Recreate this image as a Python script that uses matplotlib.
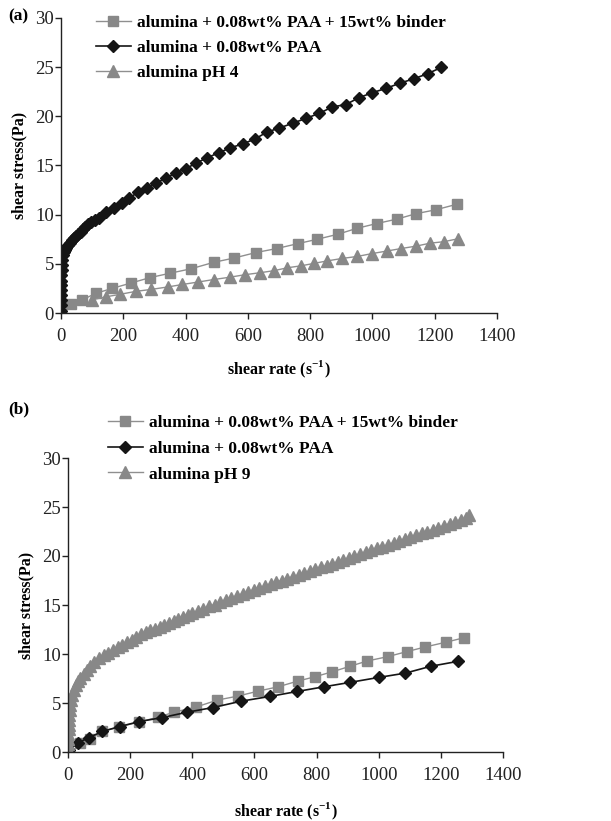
import matplotlib
matplotlib.use("Agg")
import matplotlib.pyplot as plt

plt.rcParams['font.family'] = ['Liberation Serif', 'DejaVu Serif']
plt.rcParams['mathtext.fontset'] = 'custom'
plt.rcParams['mathtext.rm'] = 'Liberation Serif'
plt.rcParams['mathtext.bf'] = 'Liberation Serif:bold'

# ---------------- data: panel (a) ----------------
a_binder_x = [33, 69, 112, 164, 225, 286, 351, 418, 490, 557, 626, 692, 760, 823, 888, 949, 1014, 1079, 1140, 1204, 1270]
a_binder_y = [0.88, 1.35, 2.0, 2.5, 3.05, 3.6, 4.05, 4.5, 5.15, 5.6, 6.15, 6.55, 7.05, 7.5, 8.0, 8.6, 9.1, 9.55, 10.1, 10.5, 11.05]

a_paa_x = [0.1, 0.2, 0.3, 0.4, 0.5, 0.6, 0.8, 1, 2, 3, 4.5, 6.8, 9.5, 12.6, 17, 22, 28, 34, 41, 48, 55, 63, 70, 77, 87, 96.6,
           108, 120.7, 145, 169, 195, 219, 246, 275, 306, 336, 369, 401, 435, 470, 507, 544, 584, 623, 661.5, 700, 744,
           787, 829, 871, 914.5, 957, 999.5, 1045, 1088, 1135, 1178, 1221]
a_paa_y = [0.2, 0.8, 1.3, 1.8, 2.3, 2.8, 3.3, 3.85, 4.35, 4.87, 5.4, 5.9, 6.2, 6.4, 6.65, 6.9, 7.15, 7.4, 7.6, 7.87, 8.05,
           8.28, 8.55, 8.79, 9.05, 9.3, 9.45, 9.64, 10.25, 10.66, 11.17, 11.68, 12.26, 12.7, 13.2, 13.73, 14.24, 14.68,
           15.26, 15.8, 16.3, 16.8, 17.2, 17.7, 18.4, 18.8, 19.3, 19.8, 20.3, 20.95, 21.2, 21.9, 22.4, 22.86, 23.37,
           23.84, 24.35, 24.97]

a_ph4_x = [101, 145, 190, 240, 290, 343, 390, 440, 490, 544, 592, 640, 683, 727, 771, 813, 855, 903, 951, 1000, 1046,
           1091, 1140, 1185, 1229, 1275]
a_ph4_y = [1.35, 1.65, 1.9, 2.2, 2.4, 2.65, 2.9, 3.15, 3.4, 3.65, 3.9, 4.1, 4.3, 4.6, 4.8, 5.05, 5.3, 5.55, 5.75, 6.05,
           6.3, 6.55, 6.8, 7.1, 7.25, 7.55]

# ---------------- data: panel (b) ----------------
b_binder_x = [39, 72, 110, 165, 227, 290, 341, 413, 481, 546, 612, 677, 740, 795, 851, 907, 962, 1029, 1090, 1150, 1216, 1276]
b_binder_y = [0.92, 1.35, 2.1, 2.55, 3.05, 3.55, 4.06, 4.6, 5.3, 5.7, 6.21, 6.66, 7.24, 7.68, 8.19, 8.74, 9.28, 9.73,
              10.24, 10.72, 11.2, 11.67]

b_paa_x = [3, 33, 66, 111, 166, 229, 304, 382, 467, 558, 650, 738, 825, 907, 1000, 1086, 1168, 1255]
b_paa_y = [0.2, 0.95, 1.45, 2.1, 2.6, 3.1, 3.52, 4.05, 4.54, 5.19, 5.67, 6.18, 6.66, 7.1, 7.61, 8.05, 8.75, 9.25]

b_ph9_x = [0, 0.5, 1, 1.5, 2, 2.5, 3, 4, 5, 7, 9, 13, 18, 25, 32, 40, 50, 60, 72, 85, 100, 115, 130, 145, 160, 175,
           190, 205, 220, 235, 250, 265, 280, 295, 310, 325, 340, 355, 370, 385, 400, 418, 436, 454, 472, 490, 508,
           526, 544, 562, 580, 598, 616, 634, 652, 670, 688, 706, 724, 742, 760, 778, 796, 814, 832, 850, 868, 886,
           904, 922, 940, 958, 976, 994, 1012, 1030, 1048, 1066, 1084, 1102, 1120, 1138, 1156, 1174, 1192, 1210,
           1228, 1246, 1264, 1282, 1290]
b_ph9_y = [0.3, 0.8, 1.3, 1.8, 2.3, 2.8, 3.3, 3.8, 4.3, 4.8, 5.3, 5.8, 6.3, 6.8, 7.2, 7.6, 8.0, 8.4, 8.8, 9.2, 9.6,
           9.9, 10.1, 10.4, 10.7, 10.9, 11.2, 11.4, 11.7, 12.0, 12.2, 12.4, 12.6, 12.8, 13.0, 13.15, 13.35, 13.55,
           13.75, 13.95, 14.15, 14.35, 14.6, 14.85, 15.05, 15.3, 15.55, 15.75, 15.95, 16.15, 16.35, 16.55, 16.75,
           16.95, 17.15, 17.35, 17.5, 17.7, 17.9, 18.05, 18.25, 18.45, 18.65, 18.85, 19.0, 19.2, 19.4, 19.6, 19.8,
           20.0, 20.2, 20.4, 20.6, 20.8, 20.95, 21.15, 21.35, 21.55, 21.75, 21.9, 22.1, 22.3, 22.5, 22.7, 22.9,
           23.1, 23.3, 23.5, 23.7, 23.9, 24.2]

label_binder = "alumina + 0.08wt% PAA + 15wt% binder"
label_paa = "alumina + 0.08wt% PAA"
label_ph4 = "alumina pH 4"
label_ph9 = "alumina pH 9"

xticks = [0, 200, 400, 600, 800, 1000, 1200, 1400]
yticks = [0, 5, 10, 15, 20, 25, 30]

GREY = '#888888'
GREYLINE = '#8f8f8f'
BLACK = '#151515'

fig = plt.figure(figsize=(6.11, 8.21), dpi=100)
W, H = 611, 821
ax1 = fig.add_axes([61 / W, 1 - 313 / H, 436 / W, 295 / H])
ax2 = fig.add_axes([68 / W, 1 - 752 / H, 435 / W, 294 / H])

TICKFS = 13.5
LEGFS = 12.5
LABFS = 11.5


def style(ax, xpad):
    ax.set_xlim(0, 1400)
    ax.set_ylim(0, 30)
    ax.set_xticks(xticks)
    ax.set_yticks(yticks)
    for s in ['top', 'right']:
        ax.spines[s].set_visible(False)
    for s in ['left', 'bottom']:
        ax.spines[s].set_linewidth(1.0)
        ax.spines[s].set_color('#222222')
    ax.tick_params(direction='out', length=4, width=1.0, labelsize=TICKFS, colors='#222222')
    ax.tick_params(axis='y', pad=1)
    ax.tick_params(axis='x', pad=7)
    ax.set_xlabel(r'shear rate (s$^{\mathbf{-1}}$)', fontsize=LABFS, fontweight='bold', labelpad=xpad)
    ax.set_ylabel('shear stress(Pa)', fontsize=LABFS, fontweight='bold', labelpad=6)


# panel (a)
l1, = ax1.plot(a_binder_x, a_binder_y, color=GREYLINE, lw=1.0, marker='s', ms=7.5, mfc=GREY, mec=GREY, label=label_binder)
l2, = ax1.plot(a_paa_x, a_paa_y, color=BLACK, lw=1.2, marker='D', ms=6, mfc=BLACK, mec=BLACK, label=label_paa)
l3, = ax1.plot(a_ph4_x, a_ph4_y, color=GREYLINE, lw=1.0, marker='^', ms=8, mfc=GREY, mec=GREY, label=label_ph4)
style(ax1, 10)
fig.legend(handles=[l1, l2, l3], loc='upper left', bbox_to_anchor=(96 / W, 1 - 15 / H), frameon=False,
           borderpad=0, borderaxespad=0, handlelength=2.0, handletextpad=0.35, labelspacing=0.5,
           prop={'weight': 'bold', 'size': LEGFS})

# panel (b)
m1, = ax2.plot(b_binder_x, b_binder_y, color=GREYLINE, lw=1.0, marker='s', ms=7.5, mfc=GREY, mec=GREY, label=label_binder)
m2, = ax2.plot(b_paa_x, b_paa_y, color=BLACK, lw=1.2, marker='D', ms=6, mfc=BLACK, mec=BLACK, label=label_paa)
m3, = ax2.plot(b_ph9_x, b_ph9_y, color=GREYLINE, lw=1.0, marker='^', ms=8, mfc=GREY, mec=GREY, label=label_ph9)
style(ax2, 12)
fig.legend(handles=[m1, m2, m3], loc='upper left', bbox_to_anchor=(108 / W, 1 - 415 / H), frameon=False,
           borderpad=0, borderaxespad=0, handlelength=2.0, handletextpad=0.35, labelspacing=0.55,
           prop={'weight': 'bold', 'size': LEGFS})

fig.text(8 / W, 1 - 16 / H, '(a)', fontsize=12.5, fontweight='bold', va='center', ha='left')
fig.text(8 / W, 1 - 409 / H, '(b)', fontsize=12.5, fontweight='bold', va='center', ha='left')

fig.savefig('out.png', dpi=100, facecolor='white')
